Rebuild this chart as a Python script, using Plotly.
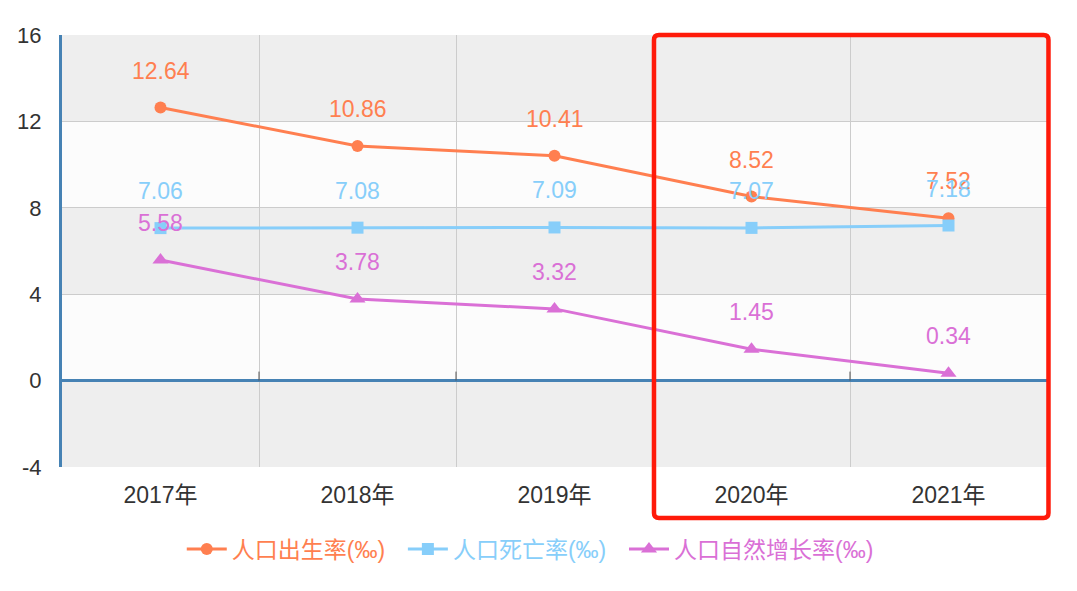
import plotly.graph_objects as go

years = ["2017年", "2018年", "2019年", "2020年", "2021年"]
birth = [12.64, 10.86, 10.41, 8.52, 7.52]
death = [7.06, 7.08, 7.09, 7.07, 7.18]
natural = [5.58, 3.78, 3.32, 1.45, 0.34]
names = ["人口出生率(‰)", "人口死亡率(‰)", "人口自然增长率(‰)"]
colors = ["#ff7f50", "#87cefa", "#da70d6"]
symbols = ["circle", "square", "triangle-up"]
y_ticks = [-4, 0, 4, 8, 12, 16]
y_ticktext = ["-4", "0", "4", "8", "12", "16"]

FONT = "Liberation Sans, Arial, Noto Sans CJK SC, sans-serif"

fig = go.Figure()
annotations = []
for vals, name, col, sym in zip([birth, death, natural], names, colors, symbols):
    fig.add_trace(go.Scatter(
        x=years, y=vals, mode="lines+markers",
        name=f'<span style="color:{col}">{name}</span>&nbsp;&nbsp;',
        line=dict(color=col, width=3),
        marker=dict(symbol=sym, size=12 if sym != "triangle-up" else 14, color=col),
    ))
    for xv, yv in zip(years, vals):
        annotations.append(dict(
            x=xv, y=yv, xref="x", yref="y", text=f"{yv:.2f}", showarrow=False,
            yshift=37, font=dict(size=23, color=col, family=FONT),
        ))

shapes = []
# alternating bands
for lo, hi in [(12, 16), (4, 8), (-4, 0)]:
    shapes.append(dict(type="rect", xref="paper", yref="y", x0=0, x1=1, y0=lo, y1=hi,
                       fillcolor="#eeeeee", line=dict(width=0), layer="below"))
# small ticks on zero line at category boundaries
for i in range(len(years) - 1):
    shapes.append(dict(type="line", xref="x", yref="y", ysizemode="pixel", yanchor=0,
                       x0=i + 0.5, x1=i + 0.5, y0=0, y1=9,
                       line=dict(color="#555555", width=1)))
# red highlight rounded rectangle
x0, x1 = 0.601, 1.0015
y0, y1 = -0.118, 1.0
rx, ry = 5 / 985, 5 / 432
path = (f"M {x0+rx},{y1} L {x1-rx},{y1} Q {x1},{y1} {x1},{y1-ry} "
        f"L {x1},{y0+ry} Q {x1},{y0} {x1-rx},{y0} L {x0+rx},{y0} "
        f"Q {x0},{y0} {x0},{y0+ry} L {x0},{y1-ry} Q {x0},{y1} {x0+rx},{y1} Z")
shapes.append(dict(type="path", xref="paper", yref="paper", path=path,
                   line=dict(color="#ff1a0a", width=4.5), layer="above"))

fig.update_layout(
    width=1077, height=591,
    margin=dict(l=62, r=30, t=35, b=124),
    paper_bgcolor="white", plot_bgcolor="#fcfcfc",
    font=dict(family=FONT, size=22, color="#333333"),
    showlegend=True,
    legend=dict(orientation="h", x=0.482, xanchor="center", y=-0.19, yanchor="middle",
                font=dict(size=23), bgcolor="rgba(0,0,0,0)", itemwidth=40),
    xaxis=dict(type="category", tickson="boundaries", range=[-0.5, 4.5], showgrid=True,
               gridcolor="#cccccc", gridwidth=1.3, ticks="", showline=False, zeroline=False,
               tickfont=dict(size=23, color="#333333"), ticklabelstandoff=12, fixedrange=True),
    yaxis=dict(range=[-4, 16], tickvals=y_ticks, ticktext=y_ticktext, showgrid=True,
               gridcolor="#cccccc", gridwidth=1.3, showline=True, linecolor="#4682b4",
               linewidth=3, zeroline=True, zerolinecolor="#4682b4", zerolinewidth=3, ticks="",
               tickfont=dict(size=22, color="#333333"), ticklabelstandoff=13),
    shapes=shapes, annotations=annotations,
)

fig.write_html("out.html")
